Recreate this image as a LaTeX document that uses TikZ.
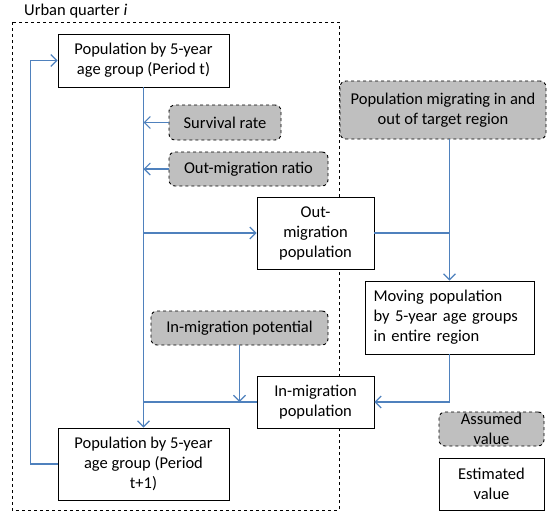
\documentclass[tikz,border=0pt]{standalone}
\usepackage{fontspec}
\setmainfont{Carlito}
\usetikzlibrary{arrows.meta}

\definecolor{flowblue}{HTML}{4F81BD}
\definecolor{assumedgrey}{HTML}{BFBFBF}

\tikzset{
  estbox/.style={draw, line width=0.9, fill=white, align=center, inner sep=2},
  assbox/.style={draw, dashed, line width=0.9, fill=assumedgrey, rounded corners=6, align=center, inner sep=2},
  flow/.style={draw=flowblue, line width=1.1, -{Straight Barb[length=6,width=12]}},
  link/.style={draw=flowblue, line width=1.1}
}

\begin{document}
\begin{tikzpicture}[x=1pt,y=-1pt,font=\fontsize{16.5}{20}\selectfont]
  \useasboundingbox (0,0) rectangle (550,514);

  % urban quarter frame
  \draw[dashed, line width=0.9] (12,22) rectangle (339,510);
  \node[anchor=west, inner sep=0] (urban) at (24,11) {Urban quarter \textit{i}};

  % estimated values
  \node[estbox, minimum width=171, minimum height=53] (popt) at (143.5,60.5)
    {Population by 5-year\\age group (Period t)};
  \node[estbox, minimum width=117, minimum height=72, text width=100] (outpop) at (315.5,233)
    {Out-\\migration\\population};
  \node[estbox, minimum width=169, minimum height=73, text width=152, align=left] (moving) at (449.5,317.5)
    {Moving population\\by 5-year age groups\\in entire region};
  \node[estbox, minimum width=117, minimum height=52] (inpop) at (315.5,402)
    {In-migration\\population};
  \node[estbox, minimum width=171, minimum height=72] (popt1) at (143.5,464)
    {Population by 5-year\\age group (Period\\t+1)};

  % assumed values
  \node[assbox, minimum width=112, minimum height=35] (survival) at (225,122.5) {Survival rate};
  \node[assbox, minimum width=159, minimum height=34] (ratio) at (248.5,169) {Out-migration ratio};
  \node[assbox, minimum width=206, minimum height=58] (region) at (443,110)
    {Population migrating in and\\out of target region};
  \node[assbox, minimum width=177, minimum height=34] (potential) at (239.5,328) {In-migration potential};

  % legend
  \node[assbox, minimum width=105, minimum height=34, inner sep=0] (assumed) at (491.5,429) {Assumed\\value};
  \node[estbox, minimum width=105, minimum height=52] (estimated) at (491.5,484) {Estimated\\value};

  % connectors
  \draw[flow] (popt.south) -- (popt1.north);
  \draw[flow] (survival.west) -- (survival.west -| popt.south);
  \draw[flow] (ratio.west) -- (ratio.west -| popt.south);
  \draw[flow] (popt.south |- outpop.west) -- (outpop.west);
  \draw[link] (outpop.east) -- (outpop.east -| moving.north);
  \draw[flow] (region.south -| moving.north) -- (moving.north);
  \draw[flow] (moving.south) |- (inpop.east);
  \draw[link] (inpop.west) -- (inpop.west -| popt.south);
  \draw[flow] (potential.south) -- (potential.south |- inpop.west);
  \draw[flow] (popt1.west) -- ++(-27,0) |- (popt.west);

\end{tikzpicture}
\end{document}
